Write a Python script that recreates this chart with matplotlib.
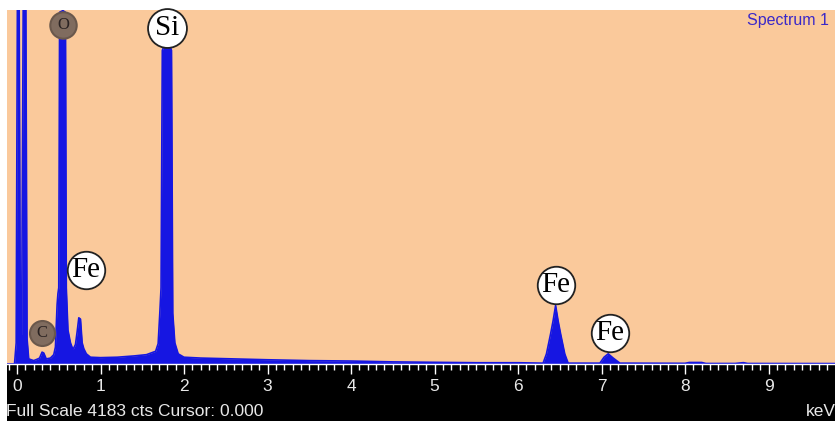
import matplotlib
matplotlib.use('Agg')
import matplotlib.pyplot as plt
from matplotlib.patches import Rectangle
from matplotlib.ticker import MultipleLocator

# spectrum (keV, counts)
energy = [-0.12, -0.03, -0.01, 0.005, 0.025, 0.04, 0.055, 0.075, 0.105, 0.12,
          0.14, 0.2, 0.25, 0.27, 0.3, 0.32, 0.35, 0.4, 0.44, 0.46,
          0.48, 0.49, 0.5, 0.51, 0.55, 0.58, 0.59, 0.61, 0.64, 0.67,
          0.7, 0.72, 0.74, 0.76, 0.78, 0.8, 0.83, 0.88, 1.0, 1.2,
          1.4, 1.55, 1.66, 1.69, 1.71, 1.725, 1.74, 1.8, 1.85, 1.865,
          1.89, 1.93, 2.0, 2.2, 2.6, 3.0, 3.5, 4.0, 4.5, 5.0,
          5.5, 6.0, 6.30, 6.34, 6.39, 6.42, 6.45, 6.48, 6.51, 6.56,
          6.60, 6.98, 7.03, 7.08, 7.14, 7.22, 7.3, 8.0, 8.05, 8.2,
          8.25, 8.6, 8.7, 8.75, 9.8]
counts = [0, 0, 250, 4400, 4400, 350, 350, 4400, 4400, 300,
          60, 40, 60, 70, 140, 130, 60, 70, 110, 200,
          700, 830, 900, 4150, 4170, 4150, 900, 400, 250, 170,
          230, 380, 545, 530, 250, 180, 120, 80, 75, 80,
          95, 110, 150, 240, 600, 900, 3700, 3850, 3700, 600,
          250, 120, 80, 70, 60, 50, 40, 35, 25, 20,
          15, 15, 10, 118, 355, 510, 690, 510, 355, 118,
          10, 10, 80, 120, 70, 10, 10, 8, 18, 18,
          6, 6, 16, 6, 5]

# peak labels: (text, keV, counts, kind)
labels = [('O', 0.551, 4005, 'grey'), ('Si', 1.796, 3960, 'white'),
          ('Fe', 0.826, 1114, 'white'), ('C', 0.299, 360, 'grey'),
          ('Fe', 6.455, 936, 'white'), ('Fe', 7.10, 367, 'white')]

full_scale = 4183
xticks = [0, 1, 2, 3, 4, 5, 6, 7, 8, 9]

W, H = 835, 421
fig = plt.figure(figsize=(W / 100, H / 100), dpi=100)
fig.patch.set_facecolor('white')

# black strip under the plot
fig.add_artist(Rectangle((7 / W, 0), 1 - 7 / W, 57 / H, transform=fig.transFigure,
                         facecolor='black', edgecolor='none', zorder=0))

ax = fig.add_axes([7 / W, 57 / H, 828 / W, (364 - 9.5) / H])
ax.set_facecolor('#fac99b')
ax.set_xlim(-0.12, 9.796)
ax.set_ylim(0, full_scale)

ax.fill_between(energy, counts, 0, color='#1616e2', lw=0, zorder=2)
ax.plot(energy, counts, color='#1616e2', lw=1.2, zorder=2)

for txt, x, y, kind in labels:
    if kind == 'white':
        ms = 28 if txt == 'Si' else 27
        ax.plot(x, y, 'o', ms=ms, mfc='white', mec='#222222', mew=1.3, zorder=4,
                clip_on=False)
        ax.text(x, y, txt, ha='center', va='center', fontsize=21,
                family='Liberation Serif', color='black', zorder=5)
    else:
        ms = 19 if txt == 'O' else 18
        ax.plot(x, y, 'o', ms=ms, mfc='#806c5f', mec='#6a584c', mew=1.5, zorder=4,
                clip_on=False)
        ax.text(x, y, txt, ha='center', va='center', fontsize=12,
                family='Liberation Serif', color='#2a2222', zorder=5)

for s in ['top', 'left', 'right']:
    ax.spines[s].set_visible(False)
ax.spines['bottom'].set_color('white')
ax.spines['bottom'].set_linewidth(1)

ax.set_yticks([])
ax.set_xticks(xticks)
ax.xaxis.set_minor_locator(MultipleLocator(0.1))
ax.tick_params(axis='x', which='major', direction='out', length=7, width=1,
               color='white', labelcolor='#e8e8e8', labelsize=12.5, pad=4)
ax.tick_params(axis='x', which='minor', direction='out', length=4, width=1,
               color='white')
for lab in ax.get_xticklabels():
    lab.set_family('Liberation Sans')

fig.text(829 / W, 1 - 21 / H, 'Spectrum 1', ha='right', va='center', fontsize=11.5,
         family='Liberation Sans', color='#3a28c8')
fig.text(6 / W, 1 - 412 / H, 'Full Scale 4183 cts Cursor: 0.000', ha='left',
         va='center', fontsize=12.5, family='Liberation Sans', color='#e8e8e8')
fig.text(836 / W, 1 - 412 / H, 'keV', ha='right', va='center', fontsize=12.5,
         family='Liberation Sans', color='#e8e8e8')

fig.savefig('out.png', dpi=100)
